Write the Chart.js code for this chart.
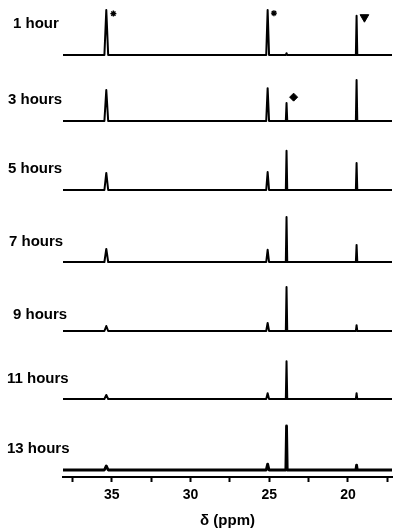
<!DOCTYPE html>
<html>
<head>
<meta charset="utf-8">
<script src="https://cdn.jsdelivr.net/npm/chart.js@4.4.1/dist/chart.umd.min.js"></script>
<style>
  html, body { margin: 0; padding: 0; background: #fff; }
  #wrap { width: 395px; height: 528px; }
</style>
</head>
<body>
<div id="wrap"><canvas id="nmrChart"></canvas></div>
<script>
// spectra, top to bottom
const timeLabels = ['1 hour', '3 hours', '5 hours', '7 hours', '9 hours', '11 hours', '13 hours'];

// peak positions (ppm) and their half widths (ppm)
const peakShifts = [35.35, 25.1, 23.9, 19.45];
const peakHalfWidths = [0.12, 0.09, 0.045, 0.045];

// peak intensities for each spectrum, same order as peakShifts
const int1h  = [100, 100, 4, 87];
const int3h  = [69, 73, 40, 91];
const int5h  = [38, 40, 87, 60];
const int7h  = [29, 27, 100, 38];
const int9h  = [11, 18, 98, 13];
const int11h = [9, 13, 84, 13];
const int13h = [9, 13, 98, 11];
const peakIntensities = [int1h, int3h, int5h, int7h, int9h, int11h, int13h];

// marked peaks: * , * , down triangle, diamond
const markerSpectrum = [0, 0, 0, 1];
const markerShift = [34.9, 24.7, 18.95, 23.45];
const markerLevel = [92, 93, 84, 53];
const markerStyle = ['star', 'star', 'triangle', 'rectRot'];

// chemical shift axis
const shiftMin = 17.2;
const shiftMax = 38.1;
const tickLabels = [35, 30, 25, 20];

// layout of the stacked panels
const bandHeights = [62, 66, 69, 72, 69, 68, 71];
const baseGap = 7;
const pxPerUnit = 0.45;
const labelX = [13, 8, 8, 9, 13, 7, 7];
const labelRise = [31, 21, 21, 20, 16, 20, 21];
const lineWidths = [2, 2, 2, 2, 2, 2, 2.8];
const FONT = '"Liberation Sans", Arial, Helvetica, sans-serif';

function spectrumPoints(intensities) {
  const pts = [{ x: shiftMax, y: 0 }];
  peakShifts.forEach((s, i) => {
    if (!intensities[i]) return;
    const w = peakHalfWidths[i];
    pts.push({ x: s + w, y: 0 }, { x: s, y: intensities[i] }, { x: s - w, y: 0 });
  });
  pts.push({ x: shiftMin, y: 0 });
  return pts;
}

const datasets = peakIntensities.map((ints, i) => ({
  type: 'line',
  data: spectrumPoints(ints),
  yAxisID: 'y' + i,
  borderColor: '#000',
  borderWidth: lineWidths[i],
  borderJoinStyle: 'round',
  pointRadius: 0,
  tension: 0,
  fill: false
}));

markerShift.forEach((s, i) => {
  const style = markerStyle[i];
  datasets.push({
    type: 'line',
    data: [{ x: s, y: markerLevel[i] }],
    yAxisID: 'y' + markerSpectrum[i],
    showLine: false,
    pointStyle: style,
    pointRadius: style === 'star' ? 3 : (style === 'triangle' ? 5 : 4),
    pointRotation: style === 'triangle' ? 180 : 0,
    pointBorderColor: '#000',
    pointBackgroundColor: '#000',
    pointBorderWidth: style === 'star' ? 1.4 : 1
  });
});

// one stacked y scale per spectrum; the last one defined sits on top
const scales = {
  x: {
    type: 'linear',
    position: 'bottom',
    reverse: true,
    min: shiftMin,
    max: shiftMax,
    border: { display: true, color: '#000', width: 2 },
    grid: { drawOnChartArea: false, drawTicks: true, tickLength: 5, tickWidth: 2, tickColor: '#000' },
    ticks: {
      stepSize: 2.5,
      includeBounds: false,
      autoSkip: false,
      maxRotation: 0,
      padding: 5,
      color: '#000',
      font: { family: FONT, weight: 'bold', size: 14 },
      callback: v => tickLabels.includes(v) ? String(v) : ''
    },
    title: {
      display: true,
      text: 'δ (ppm)',
      color: '#000',
      font: { family: FONT, weight: 'bold', size: 15, lineHeight: 1 },
      padding: { top: 0, bottom: 0 }
    },
    afterFit: s => { s.height = 51; }
  }
};
for (let i = timeLabels.length - 1; i >= 0; i--) {
  scales['y' + i] = {
    type: 'linear',
    display: false,
    stack: 'spectra',
    stackWeight: bandHeights[i],
    min: -baseGap / pxPerUnit,
    max: (bandHeights[i] - baseGap) / pxPerUnit
  };
}

// time labels to the left of each trace
const spectrumLabels = {
  id: 'spectrumLabels',
  afterDraw(chart) {
    const ctx = chart.ctx;
    ctx.save();
    ctx.font = 'bold 15px ' + FONT;
    ctx.fillStyle = '#000';
    ctx.textBaseline = 'middle';
    ctx.textAlign = 'left';
    timeLabels.forEach((t, i) => {
      const y = chart.scales['y' + i].getPixelForValue(0) - labelRise[i];
      ctx.fillText(t, labelX[i], y);
    });
    ctx.restore();
  }
};

new Chart(document.getElementById('nmrChart').getContext('2d'), {
  type: 'line',
  data: { datasets },
  options: {
    responsive: true,
    maintainAspectRatio: false,
    animation: false,
    layout: { autoPadding: false, padding: { left: 63, right: 3, top: 0, bottom: 0 } },
    plugins: { legend: { display: false }, tooltip: { enabled: false } },
    scales
  },
  plugins: [spectrumLabels]
});
</script>
</body>
</html>
